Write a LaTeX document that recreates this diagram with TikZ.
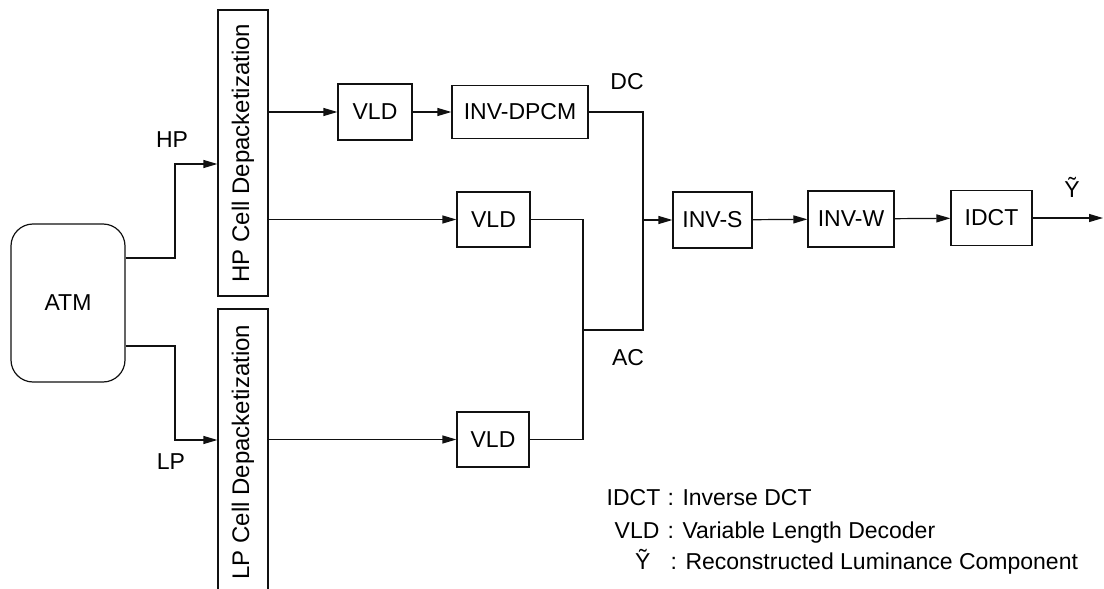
\documentclass[tikz,border=0pt]{standalone}
\usepackage{fontspec}
\setmainfont{Liberation Sans}
\usepackage{graphicx}
\usetikzlibrary{arrows.meta,positioning,calc}
\definecolor{InkBlack}{HTML}{111111}

\begin{document}
\begin{tikzpicture}[x=0.5pt,y=-0.5pt,>={Triangle[length=7pt,width=4pt]},line width=0.6pt,draw=InkBlack,
  blk/.style={draw,inner sep=0pt,font=\fontsize{11.5}{14}\selectfont},
  cellbox/.style={draw,inner sep=0pt,minimum width=25pt,minimum height=143pt,font=\fontsize{12}{14}\selectfont},
  lbl/.style={inner sep=0pt,font=\fontsize{11.5}{14}\selectfont},
  key/.style={inner sep=0pt,font=\fontsize{11.5}{14}\selectfont}]
  \useasboundingbox (0,0) rectangle (1104,589);

  \node[blk,rounded corners=11pt,minimum width=57pt,minimum height=79pt] (atm) at (68,303) {ATM};
  \node[cellbox] (hpc) at (243,153) {\rotatebox{90}{HP Cell Depacketization}};
  \node[cellbox] (lpc) at (243,452) {\rotatebox{90}{LP Cell Depacketization}};
  \node[blk,minimum width=37pt,minimum height=28pt] (vlda) at (375,112) {VLD};
  \node[blk,minimum width=68pt,minimum height=26.5pt] (dpcm) at (520,112) {INV-DPCM};
  \node[blk,minimum width=36.5pt,minimum height=27.5pt] (vldb) at (493.5,219.5) {VLD};
  \node[blk,minimum width=36pt,minimum height=27.5pt] (vldc) at (493,439.5) {VLD};
  \node[blk,minimum width=39.5pt,minimum height=28pt] (invs) at (712.5,220) {INV-S};
  \node[blk,minimum width=43pt,minimum height=28pt] (invw) at (851,219) {INV-W};
  \node[blk,minimum width=40.5pt,minimum height=27.5pt] (idct) at (991.5,218) {IDCT};

  \node[lbl] (hplbl) at (172,140) {HP};
  \node[lbl] (lplbl) at (171,462) {LP};
  \node[lbl] (dclbl) at (627,82) {DC};
  \node[lbl] (aclbl) at (628,358) {AC};
  \node[lbl] (ylbl) at (1072,187) {Ỹ};

  % ATM outputs
  \draw[->] ([yshift=22.5pt]atm.east) -- (175,258) |- ([yshift=-5.5pt]hpc.west);
  \draw[->] ([yshift=-21.5pt]atm.east) -- (175,346) |- ([yshift=6pt]lpc.west);

  \draw[->] (hpc.east |- vlda) -- (vlda);
  \draw[->] (vlda) -- (dpcm);
  \draw[->] (hpc.east |- vldb) -- (vldb);
  \draw[->] (lpc.east |- vldc) -- (vldc);

  % DC and AC merge
  \coordinate (dcjoin) at (643,330);
  \coordinate (acjoin) at (583,330);
  \draw (dpcm) -| (dcjoin) -- (acjoin);
  \draw (vldb) -| (acjoin |- vldc) -- (vldc);

  \draw[->] (dcjoin |- invs) -- (invs);
  \draw[->] (invs) -- (invw);
  \draw[->] (invw) -- (idct);
  \coordinate (yout) at (1103,218);
  \draw[->] (idct) -- (yout);

  \node[key,anchor=base east] (kidct) at (661,505) {IDCT};
  \node[key,anchor=base west] (tidct) at (667,505) {: Inverse DCT};
  \node[key,anchor=base east] (kvld) at (660,538) {VLD};
  \node[key,anchor=base west] (tvld) at (667,538) {: Variable Length Decoder};
  \node[key,anchor=base east] (ky) at (651,569) {Ỹ};
  \node[key,anchor=base west] (ty) at (670,569) {: Reconstructed Luminance Component};
\end{tikzpicture}
\end{document}
